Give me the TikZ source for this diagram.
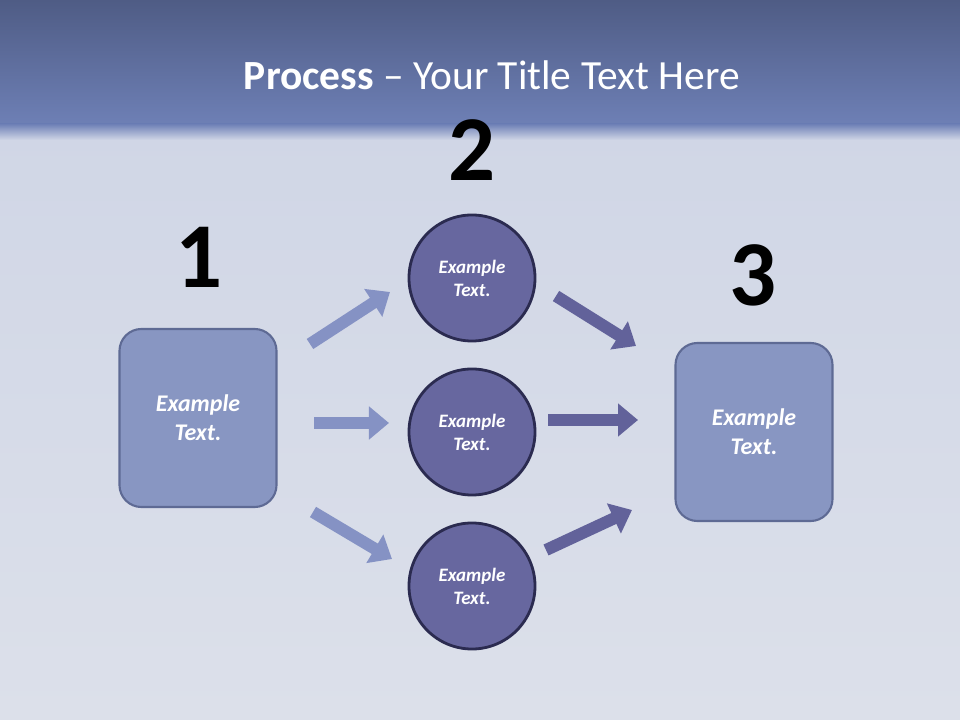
\documentclass[tikz,border=0pt]{standalone}
\usepackage{fontspec}
\setmainfont{Carlito}
\usetikzlibrary{arrows.meta}
\definecolor{bandtop}{HTML}{4F5C85}
\definecolor{bandbot}{HTML}{6E80B6}
\definecolor{clothtop}{HTML}{D0D6E6}
\definecolor{clothbot}{HTML}{DCE0EA}
\definecolor{boxfill}{HTML}{8896C2}
\definecolor{boxline}{HTML}{5E6A94}
\definecolor{discfill}{HTML}{67679F}
\definecolor{discline}{HTML}{2B2B50}
\definecolor{arrowlight}{HTML}{8592C4}
\definecolor{arrowdark}{HTML}{62629A}
\begin{document}
\begin{tikzpicture}[x=0.025cm,y=-0.025cm,inner sep=0pt,outer sep=0pt,
stepbox/.style={draw=boxline,fill=boxfill,rectangle,rounded corners=0.55cm,minimum width=3.925cm,minimum height=4.45cm,line width=1.5pt,text=white,align=center,font=\fontsize{17}{20.5}\selectfont\bfseries\itshape},
disc/.style={draw=discline,fill=discfill,circle,minimum size=3.15cm,line width=2pt,text=white,align=center,font=\fontsize{13.5}{16.3}\selectfont\bfseries\itshape},
stepnum/.style={font=\fontsize{66}{70}\selectfont\bfseries},
blockarrow/.style={line width=0.3cm,-{Triangle[length=0.5cm,width=0.8cm]}}]
\useasboundingbox (0,0) rectangle (960,720);
% background
\shade[top color=bandtop,bottom color=bandbot] (0,0) rectangle (960,126);
\shade[top color=clothtop,bottom color=clothbot] (0,126) rectangle (960,720);
\shade[top color=bandbot,bottom color=clothtop] (0,124) rectangle (960,140);
\draw (492,75) node[text=white,font=\fontsize{29.5}{36}\selectfont] (title) {\textbf{Process} -- Your Title Text Here};

\draw (198,418) node[stepbox] (first) {Example\\Text.};
\draw (472,278) node[disc] (top) {Example\\Text.};
\draw (472,432) node[disc] (mid) {Example\\Text.};
\draw (472,586) node[disc] (low) {Example\\Text.};
\draw (754,432) node[stepbox] (last) {Example\\Text.};

\draw (199,257) node[stepnum] (n1) {1};
\draw (472,150) node[stepnum] (n2) {2};
\draw (753,275) node[stepnum] (n3) {3};

\coordinate (a1s) at (310,344); \coordinate (a1e) at (390,292);
\coordinate (a2s) at (314,423); \coordinate (a2e) at (389,423);
\coordinate (a3s) at (313,512); \coordinate (a3e) at (392,559);
\coordinate (b1s) at (556,296); \coordinate (b1e) at (636,346);
\coordinate (b2s) at (548,420); \coordinate (b2e) at (638,420);
\coordinate (b3s) at (546,550); \coordinate (b3e) at (632,510);

\draw[blockarrow,arrowlight] (a1s) -- (a1e);
\draw[blockarrow,arrowlight] (a2s) -- (a2e);
\draw[blockarrow,arrowlight] (a3s) -- (a3e);
\draw[blockarrow,arrowdark] (b1s) -- (b1e);
\draw[blockarrow,arrowdark] (b2s) -- (b2e);
\draw[blockarrow,arrowdark] (b3s) -- (b3e);
\end{tikzpicture}
\end{document}
